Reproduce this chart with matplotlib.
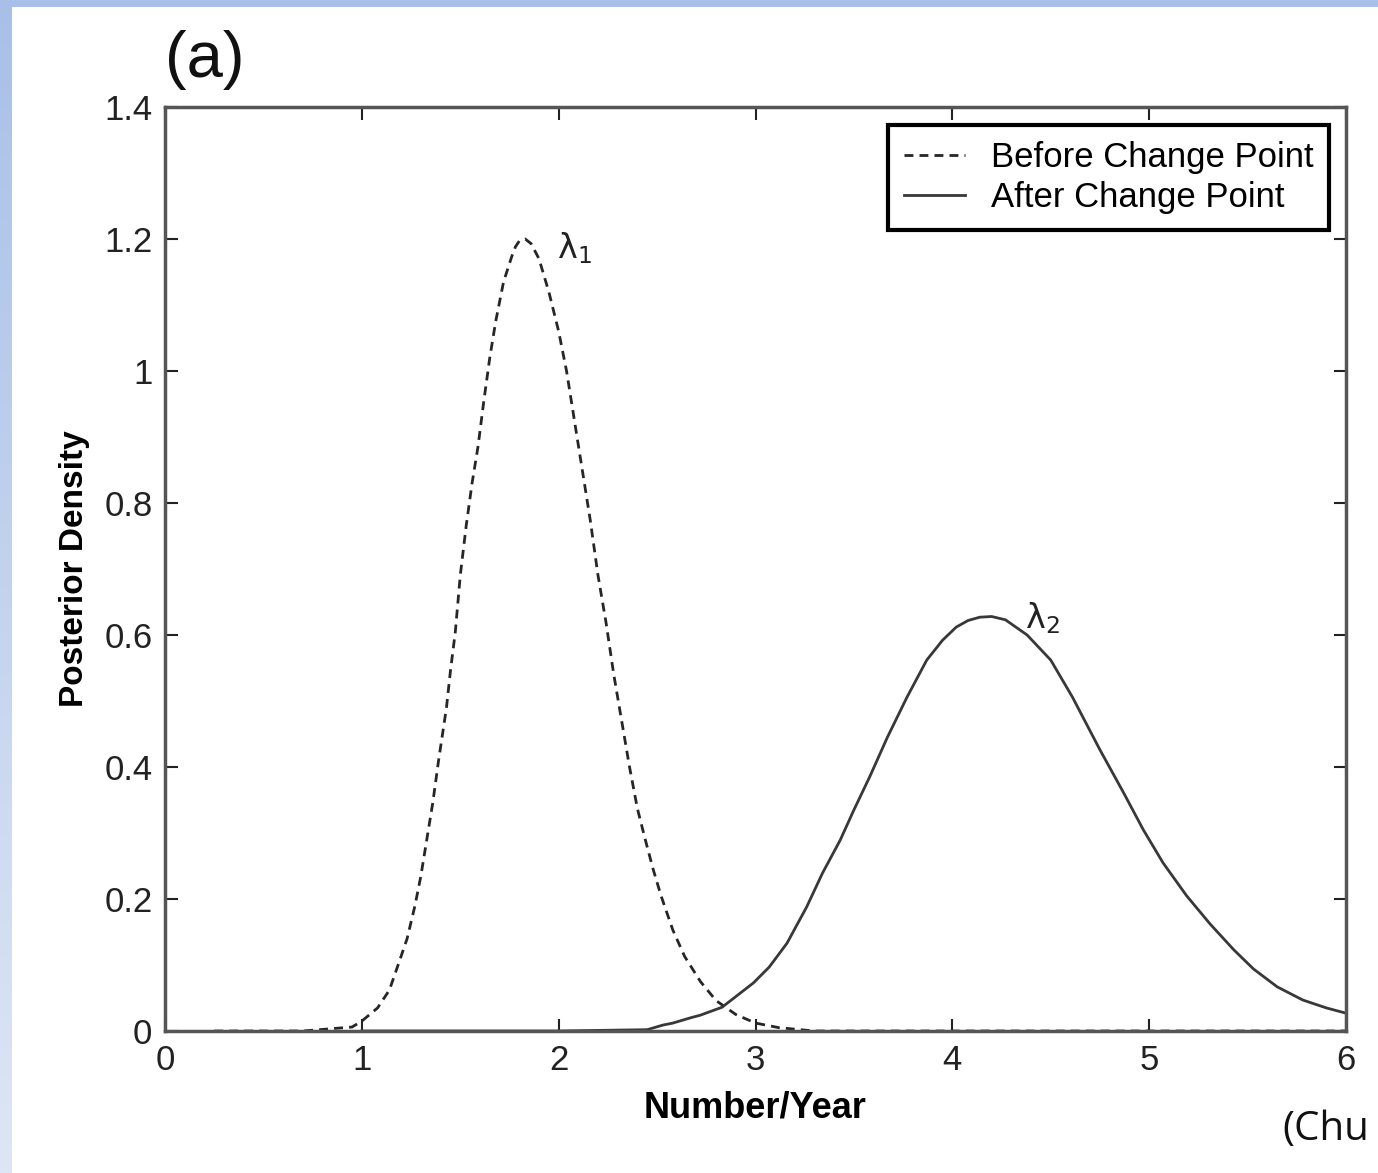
import numpy as np
import matplotlib
matplotlib.use("Agg")
import matplotlib.pyplot as plt
from matplotlib.patches import Rectangle

# ---- data ----
before_x = [0.25, 0.70, 0.95, 1.00, 1.08, 1.14, 1.19, 1.23, 1.27, 1.30, 1.33, 1.36,
            1.39, 1.43, 1.45, 1.475, 1.50, 1.53, 1.56, 1.59, 1.62, 1.65, 1.68, 1.72,
            1.76, 1.78, 1.80, 1.83, 1.86, 1.90, 1.95, 2.00, 2.04, 2.08, 2.12, 2.16, 2.20, 2.24,
            2.28, 2.32, 2.36, 2.40, 2.44, 2.48, 2.52, 2.58, 2.64, 2.72, 2.80, 2.90,
            3.00, 3.12, 3.30, 6.00]
before_y = [0.0, 0.0, 0.006, 0.015, 0.035, 0.062, 0.105, 0.14, 0.19, 0.235, 0.29, 0.345,
            0.41, 0.49, 0.545, 0.605, 0.69, 0.765, 0.83, 0.885, 0.955, 1.02, 1.075, 1.135,
            1.172, 1.188, 1.197, 1.200, 1.193, 1.17, 1.12, 1.06, 1.0, 0.925, 0.85, 0.775, 0.69, 0.62,
            0.54, 0.47, 0.40, 0.337, 0.29, 0.245, 0.205, 0.153, 0.113, 0.075, 0.046, 0.025,
            0.012, 0.005, 0.0, 0.0]

after_x = [1.00, 2.00, 2.45, 2.53, 2.58, 2.67, 2.72, 2.83, 2.99, 3.07, 3.16, 3.26,
           3.34, 3.43, 3.50, 3.58, 3.67, 3.77, 3.87, 3.95, 4.02, 4.08, 4.14, 4.20, 4.27, 4.38, 4.50,
           4.61, 4.75, 4.87, 4.97, 5.07, 5.19, 5.31, 5.43, 5.53, 5.65, 5.78, 5.90, 6.00]
after_y = [0.0, 0.0, 0.002, 0.009, 0.012, 0.02, 0.024, 0.036, 0.073, 0.097, 0.133, 0.188,
           0.239, 0.289, 0.335, 0.385, 0.445, 0.506, 0.562, 0.592, 0.612, 0.622, 0.627, 0.628, 0.623, 0.60, 0.562,
           0.506, 0.426, 0.361, 0.305, 0.255, 0.205, 0.162, 0.123, 0.094, 0.067, 0.047, 0.035, 0.027]

x_ticks = [0, 1, 2, 3, 4, 5, 6]
y_ticks = [0, 0.2, 0.4, 0.6, 0.8, 1.0, 1.2, 1.4]
y_tick_labels = ["0", "0.2", "0.4", "0.6", "0.8", "1", "1.2", "1.4"]
series_labels = ["Before Change Point", "After Change Point"]

plt.rcParams['font.family'] = ['Liberation Sans', 'DejaVu Sans']

W, H = 1378, 1173
fig = plt.figure(figsize=(W / 100, H / 100), dpi=100)
fig.patch.set_facecolor("white")

# slide background strips (blue gradient on the left, blue band on top)
bg = fig.add_axes([0, 0, 1, 1], zorder=-10)
bg.set_xlim(0, W)
bg.set_ylim(H, 0)
bg.axis("off")
grad = np.linspace(0, 1, 256).reshape(-1, 1)
top_c = np.array([168, 192, 232]) / 255
bot_c = np.array([222, 230, 245]) / 255
img = top_c[None, None, :] * (1 - grad[:, :, None]) + bot_c[None, None, :] * grad[:, :, None]
bg.imshow(img, extent=[0, 12, H, 0], aspect="auto", zorder=0)
bg.add_patch(Rectangle((0, 0), W, 7, color=top_c, zorder=1, lw=0))

ax = fig.add_axes([165 / W, 1 - 1031 / H, (1346 - 165) / W, (1031 - 107) / H])
ax.plot(before_x, before_y, color="#262626", lw=2.0, linestyle=(0, (3.2, 2.2)),
        label=series_labels[0])
ax.plot(after_x, after_y, color="#383838", lw=2.0, linestyle="-",
        label=series_labels[1])

ax.set_xlim(0, 6)
ax.set_ylim(0, 1.4)
ax.set_xticks(x_ticks)
ax.set_yticks(y_ticks)
ax.set_yticklabels(y_tick_labels)
ax.tick_params(direction="in", length=9, width=1.5, top=True, right=True,
               labelsize=25, colors="#222222", pad=9)
for s in ax.spines.values():
    s.set_linewidth(2.5)
    s.set_color("#555555")

ax.set_xlabel("Number/Year", fontsize=26, fontweight="bold", labelpad=10)
ax.set_ylabel("Posterior Density", fontsize=24, fontweight="bold", labelpad=10)

ax.text(1.99, 1.17, r"$\mathrm{\lambda}_1$", fontsize=24, color="#222222")
ax.text(4.37, 0.61, r"$\mathrm{\lambda}_2$", fontsize=24, color="#222222")

leg = ax.legend(loc="upper right", bbox_to_anchor=(0.9855, 0.98), fontsize=25,
                frameon=True, fancybox=False, edgecolor="black", framealpha=1,
                handlelength=1.75, handletextpad=0.75, borderpad=0.45,
                labelspacing=0.2, borderaxespad=0)
leg.get_frame().set_linewidth(3)

fig.text(165 / W, 1 - 60 / H, "(a)", fontsize=47, va="center", ha="left", color="#111111")
fig.text(1282 / W, 1 - 1130 / H, "(Chu", fontsize=29, va="center", ha="left",
         family=["Open Sans", "DejaVu Sans"], color="#111111")

fig.savefig("out.png", dpi=100, facecolor=fig.get_facecolor())
